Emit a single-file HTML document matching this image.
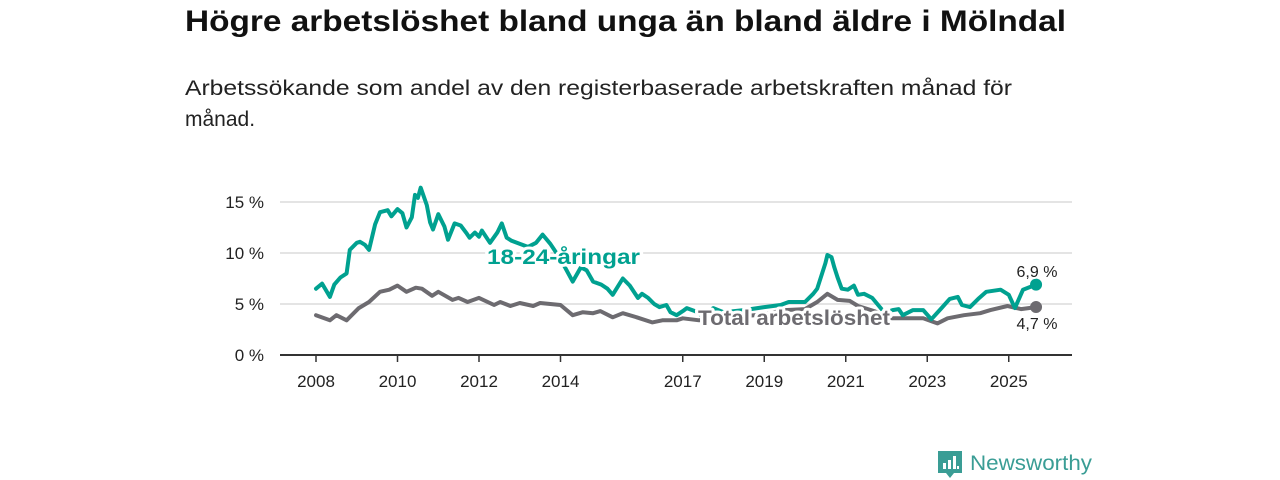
<!DOCTYPE html>
<html><head><meta charset="utf-8"><style>
html,body{margin:0;padding:0;background:#fff;}
svg{display:block;font-family:"Liberation Sans","DejaVu Sans",sans-serif;}
</style></head><body>
<svg id="chart" width="1280" height="480" viewBox="0 0 1280 480" xmlns="http://www.w3.org/2000/svg">
<text x="185" y="31" font-size="30" font-weight="bold" fill="#111" textLength="881" lengthAdjust="spacingAndGlyphs">Högre arbetslöshet bland unga än bland äldre i Mölndal</text>
<text x="185" y="95" font-size="21" fill="#222" textLength="827" lengthAdjust="spacingAndGlyphs">Arbetssökande som andel av den registerbaserade arbetskraften månad för</text>
<text x="185" y="126" font-size="21" fill="#222">månad.</text>
<g id="grid"></g>
<g id="xaxis"></g>
<g id="series"></g>
<g id="labels"></g>
<g>
<path d="M938 451 h24 v22 h-8 l-4 5 l-4 -5 h-8 z" fill="#3a9d95"/>
<rect x="943" y="463" width="3" height="6" fill="#fff"/><rect x="948" y="460" width="3" height="9" fill="#fff"/><rect x="953" y="456" width="3" height="13" fill="#fff"/><rect x="957" y="466" width="2" height="3" fill="#fff"/>
<text x="970" y="470" font-size="21" fill="#3a9d95" textLength="122" lengthAdjust="spacingAndGlyphs">Newsworthy</text>
</g>
</svg>
<script>
const yTicks=[0,5,10,15];
const yTickLabels=["0 %","5 %","10 %","15 %"];
const xTicks=[2008,2010,2012,2014,2017,2019,2021,2023,2025];
const youthT=[2008.0,2008.15,2008.34,2008.45,2008.6,2008.75,2008.83,2009.0,2009.08,2009.2,2009.3,2009.45,2009.57,2009.76,2009.85,2010.0,2010.12,2010.22,2010.35,2010.43,2010.5,2010.57,2010.72,2010.8,2010.87,2011.0,2011.15,2011.24,2011.4,2011.55,2011.7,2011.77,2011.9,2012.0,2012.07,2012.27,2012.45,2012.56,2012.68,2012.8,2012.93,2013.2,2013.4,2013.56,2013.75,2014.0,2014.3,2014.5,2014.64,2014.8,2015.0,2015.15,2015.28,2015.53,2015.7,2015.9,2016.0,2016.15,2016.3,2016.43,2016.6,2016.7,2016.85,2017.0,2017.1,2017.3,2017.5,2017.75,2018.0,2018.5,2019.0,2019.4,2019.6,2020.0,2020.2,2020.3,2020.5,2020.55,2020.65,2020.72,2020.8,2020.9,2021.05,2021.2,2021.3,2021.45,2021.65,2021.9,2022.0,2022.15,2022.3,2022.4,2022.65,2022.9,2023.1,2023.35,2023.55,2023.75,2023.85,2024.05,2024.25,2024.45,2024.8,2025.0,2025.15,2025.35,2025.67];
const youthV=[6.5,7.0,5.7,6.9,7.6,8.0,10.3,11.0,11.1,10.8,10.3,12.8,14.0,14.2,13.6,14.3,13.9,12.5,13.5,15.7,15.4,16.4,14.7,13.0,12.3,13.8,12.6,11.3,12.9,12.7,11.9,11.5,12.0,11.6,12.2,11.0,12.0,12.9,11.5,11.2,11.0,10.6,11.0,11.8,10.9,9.4,7.2,8.6,8.3,7.2,6.9,6.5,5.9,7.5,6.8,5.6,6.0,5.6,5.0,4.7,4.9,4.2,3.9,4.3,4.6,4.3,3.8,4.6,4.2,4.4,4.7,4.9,5.2,5.2,6.0,6.5,9.0,9.8,9.6,8.6,7.6,6.5,6.4,6.8,5.9,6.0,5.6,4.4,4.2,4.4,4.5,3.9,4.4,4.4,3.5,4.6,5.5,5.7,4.9,4.7,5.5,6.2,6.4,5.9,4.6,6.4,6.9];
const totalT=[2008.0,2008.34,2008.5,2008.75,2009.05,2009.3,2009.57,2009.8,2010.0,2010.22,2010.45,2010.6,2010.85,2011.0,2011.35,2011.5,2011.72,2012.0,2012.37,2012.52,2012.77,2013.0,2013.33,2013.5,2014.0,2014.3,2014.55,2014.8,2014.98,2015.28,2015.53,2015.87,2016.25,2016.5,2016.85,2017.0,2017.4,2018.0,2018.5,2019.0,2019.5,2020.0,2020.3,2020.55,2020.8,2021.1,2021.3,2021.7,2022.1,2022.6,2022.9,2023.25,2023.5,2023.9,2024.3,2024.55,2024.97,2025.3,2025.67];
const totalV=[3.9,3.4,3.9,3.4,4.6,5.2,6.2,6.4,6.8,6.2,6.6,6.5,5.8,6.2,5.4,5.6,5.2,5.6,4.9,5.2,4.8,5.1,4.8,5.1,4.9,3.9,4.2,4.1,4.3,3.7,4.1,3.7,3.2,3.4,3.4,3.6,3.4,3.6,3.8,4.0,4.4,4.5,5.2,6.0,5.4,5.3,4.8,4.3,3.6,3.6,3.6,3.1,3.6,3.9,4.1,4.4,4.8,4.5,4.7];
const NS="http://www.w3.org/2000/svg";
const xs=t=>316+(t-2008)*40.75;
const ys=v=>355-v*10.2;
function mk(tag,attrs,parent){const e=document.createElementNS(NS,tag);for(const k in attrs)e.setAttribute(k,attrs[k]);parent.appendChild(e);return e;}
const grid=document.getElementById('grid'),xa=document.getElementById('xaxis'),ser=document.getElementById('series'),lab=document.getElementById('labels');
yTicks.forEach((v,i)=>{
  if(v>0){const l=mk('line',{x1:280,x2:1072,y1:ys(v),y2:ys(v),stroke:'#dcdcdc','stroke-width':1.5},grid);
  
  }
  const t=mk('text',{x:264,y:ys(v)+6,'font-size':17,fill:'#222','text-anchor':'end'},grid);
  
  
  t.textContent=yTickLabels[i];
});
const ax=mk('line',{x1:280,x2:1072,y1:355,y2:355,stroke:'#333','stroke-width':2},xa);


xTicks.forEach(y=>{
  const tk=mk('line',{x1:xs(y),x2:xs(y),y1:355,y2:362,stroke:'#333','stroke-width':1.5},xa);
  
  
  const t=mk('text',{x:xs(y),y:387,'font-size':17,fill:'#222','text-anchor':'middle'},xa);
  
  
  t.textContent=y;
});
function line(T,V,color,name){
  const d=T.map((t,i)=>(i?'L':'M')+xs(t).toFixed(1)+' '+ys(V[i]).toFixed(1)).join(' ');
  const p=mk('path',{d:d,fill:'none',stroke:color,'stroke-width':4,'stroke-linejoin':'round','stroke-linecap':'round'},ser);
  
  
  const n=T.length-1;
  const c=mk('circle',{cx:xs(T[n]),cy:ys(V[n]),r:6,fill:color},ser);
  
  
}
line(totalT,totalV,'#6d6b70','total-line');
line(youthT,youthV,'#00a190','youth-line');
function label(x,y,txt,color,name,size,bold,anchor,len){
  const a={x:x,y:y,'font-size':size,fill:color,'font-weight':bold?'bold':'normal',stroke:'#fff','stroke-width':bold?6:4,'paint-order':'stroke','stroke-linejoin':'round','text-anchor':anchor||'start'};
  if(len){a.textLength=len;a.lengthAdjust='spacingAndGlyphs';}
  const t=mk('text',a,lab);
  
  
  t.textContent=txt;
}
label(487,264,'18-24-åringar','#00a190','youth-series-label',21,true,'start',153);
label(698,325,'Total arbetslöshet','#6d6b70','total-series-label',21,true,'start',192);
const ny=youthV.length-1,nt=totalV.length-1;
label(1037,277,String(youthV[ny]).replace('.',',')+' %','#222','youth-end-value',16,false,'middle');
label(1037,329,String(totalV[nt]).replace('.',',')+' %','#222','total-end-value',16,false,'middle');
</script>
</body></html>
